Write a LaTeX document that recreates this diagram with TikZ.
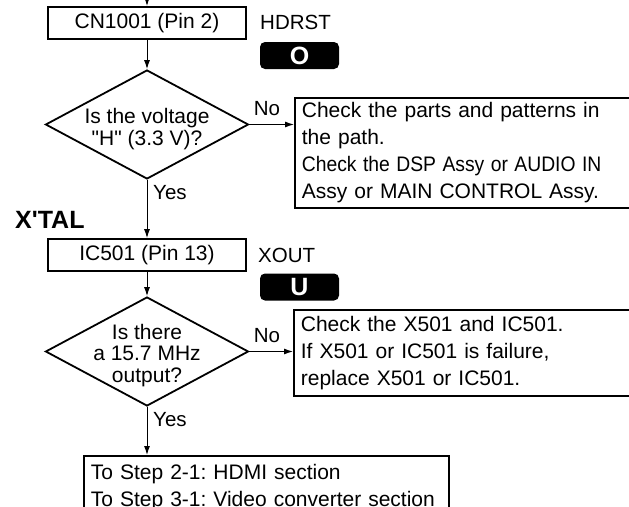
\documentclass[tikz,border=0pt]{standalone}
\usepackage{fontspec}
\usepackage{graphicx}
\newfontfamily\hv{Liberation Sans}
\setmainfont{Liberation Sans}
\usetikzlibrary{shapes.geometric,arrows.meta}
\frenchspacing
\begin{document}
\begin{tikzpicture}[x=1pt,y=-1pt,
  box/.style={draw, line width=1.8pt, minimum width=198pt, minimum height=32pt, inner sep=0pt, font=\hv\fontsize{21}{25}\selectfont},
  dia/.style={draw, diamond, line width=1.8pt, minimum width=203pt, minimum height=109pt, inner sep=0pt},
  diatext/.style={align=center, font=\hv\fontsize{21}{21.5}\selectfont, inner sep=0pt},
  lbl/.style={font=\hv\fontsize{20.5}{25}\selectfont, inner sep=0pt},
  badge/.style={fill=black, rounded corners=5pt, minimum width=79pt, minimum height=27pt, inner sep=0pt, text=white, font=\hv\bfseries\fontsize{25}{26}\selectfont},
  info/.style={draw, line width=1.8pt, anchor=north west, align=left, inner xsep=7pt, font=\hv\fontsize{21}{27}\selectfont\frenchspacing},
  flow/.style={-{Latex[length=9pt,width=6pt]}, line width=1pt},
]
\useasboundingbox (0,0) rectangle (629,506);
\coordinate (top) at (147,0);
\node[box] (cn) at (147,23) {CN1001 (Pin 2)};
\node[lbl, anchor=west] (hdrst) at (260,22) {HDRST};
\node[badge] (bo) at (299.5,55.5) {O};
\node[dia] (d1) at (147,124.5) {};
\node[diatext] (d1t) at (147,129) {Is the voltage\\"H" (3.3 V)?};
\node[lbl] (no1) at (267,109) {No};
\node[info, text width=332pt, minimum height=110pt, inner ysep=3pt] (rb1) at (294,97) {Check the parts and patterns in\\the path.\\\scalebox{0.92}[1]{Check the DSP Assy or AUDIO IN}\\Assy or MAIN CONTROL Assy.};
\node[lbl, anchor=west] (yes1) at (153,193) {Yes};
\node[font=\hv\bfseries\fontsize{25}{26}\selectfont, anchor=west, inner sep=0pt] (xtal) at (15,220) {X'TAL};
\node[box] (ic) at (147,255) {IC501 (Pin 13)};
\node[lbl, anchor=west] (xout) at (258,255) {XOUT};
\node[badge] (bu) at (299.5,287) {U};
\node[dia] (d2) at (147,351.5) {};
\node[diatext] (d2t) at (147,355.5) {Is there\\a 15.7 MHz\\output?};
\node[lbl] (no2) at (267,336) {No};
\node[info, text width=333pt, minimum height=86pt, inner ysep=3pt] (rb2) at (293,309) {Check the X501 and IC501.\\If X501 or IC501 is failure,\\replace X501 or IC501.};
\node[lbl, anchor=west] (yes2) at (153,420) {Yes};
\node[info, text width=351pt, inner ysep=8pt] (bot) at (83,455) {To Step 2-1: HDMI section\\To Step 3-1: Video converter section};
\draw[flow] (top) -- (cn.north);
\draw[flow] (cn.south) -- (d1.north);
\draw[flow] (d1.east) -- (d1.east -| rb1.west);
\draw[flow] (d1.south) -- (ic.north);
\draw[flow] (ic.south) -- (d2.north);
\draw[flow] (d2.east) -- (d2.east -| rb2.west);
\draw[flow] (d2.south) -- (d2.south |- bot.north);
\end{tikzpicture}
\end{document}
